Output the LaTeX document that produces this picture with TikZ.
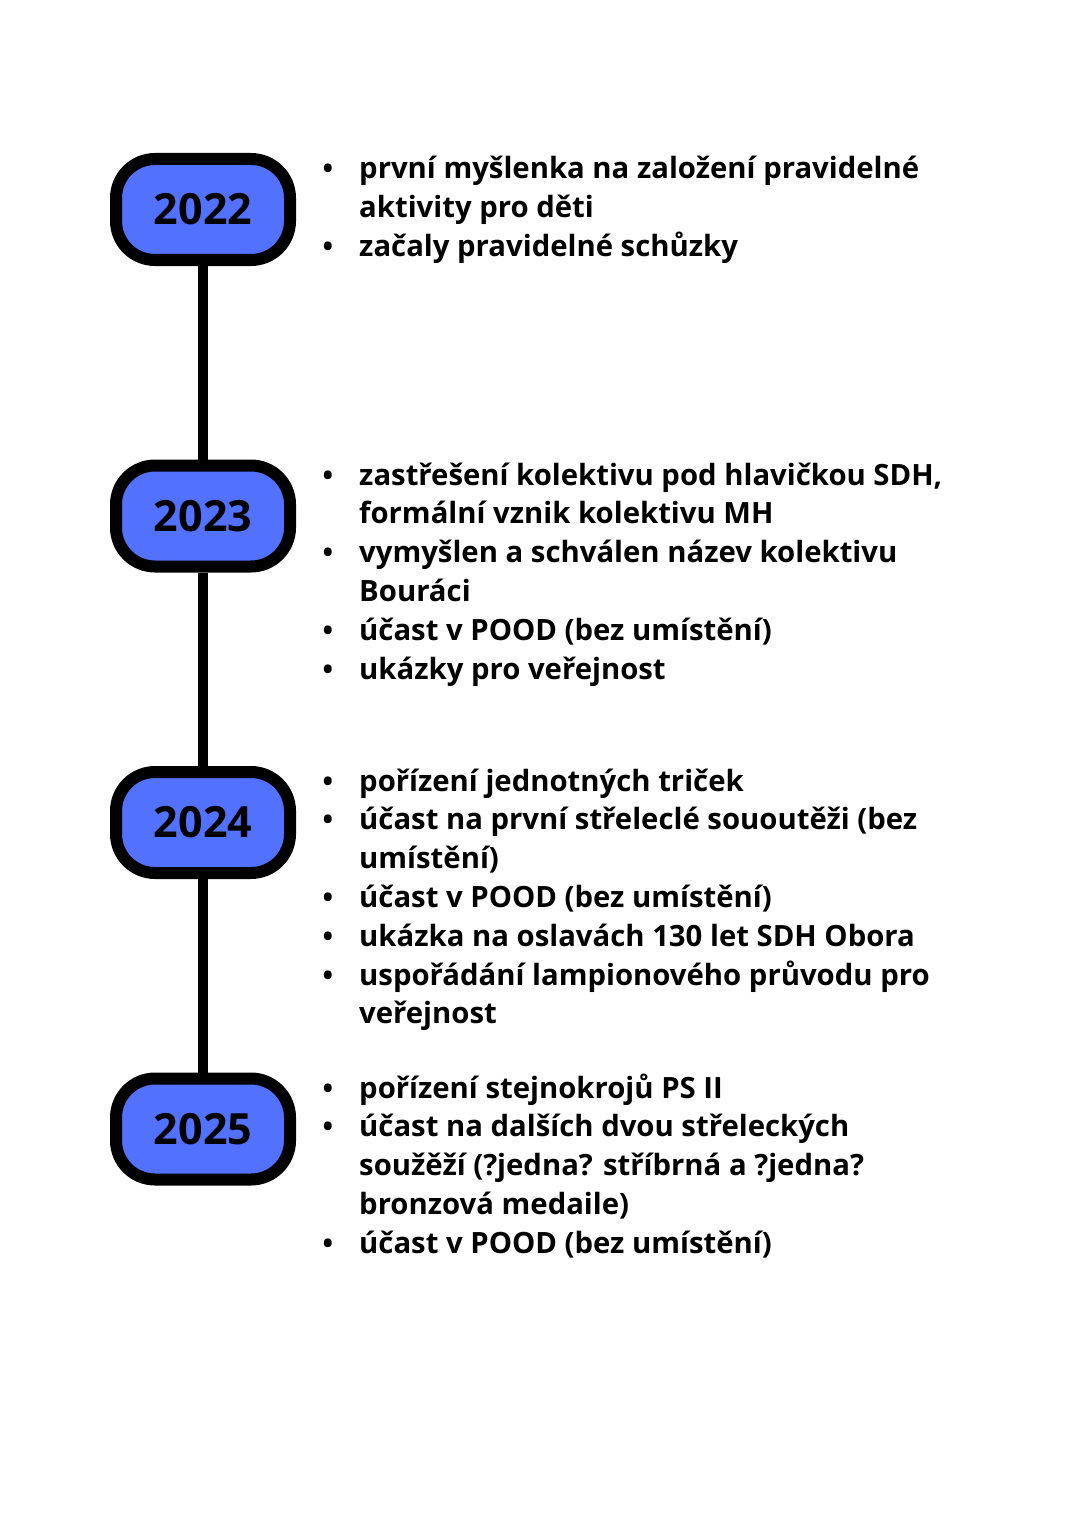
\documentclass[tikz,border=0pt]{standalone}
\usepackage{fontspec}
\setmainfont{Open Sans}
\definecolor{boxblue}{HTML}{5271FF}
\tikzset{
  yearbox/.style={draw=black, fill=boxblue, line width=12pt, rounded corners=39pt,
    minimum width=174pt, minimum height=101pt, inner sep=0pt,
    font=\fontsize{43}{50}\selectfont\bfseries},
  bul/.style={anchor=base, inner sep=0pt, font=\fontsize{28}{38.8}\selectfont\bfseries},
  txt/.style={anchor=base west, inner sep=0pt, font=\fontsize{29.3}{38.8}\selectfont\bfseries},
  link/.style={draw=black, line width=10pt}
}
\begin{document}
\begin{tikzpicture}[x=1pt,y=-1pt]
\useasboundingbox (0,0) rectangle (1085,1530);
\fill[white] (0,0) rectangle (1085,1530);
% year boxes
\node[yearbox] (b22) at (203,209.5) {2022};
\node[yearbox] (b23) at (203,516) {2023};
\node[yearbox] (b24) at (203,822.5) {2024};
\node[yearbox] (b25) at (203,1129) {2025};
% connectors
\draw[link] (b22.south) -- (b23.north);
\draw[link] (b23.south) -- (b24.north);
\draw[link] (b24.south) -- (b25.north);
% 2022
\node[bul] (u22a) at (328,178.5) {•};
\node[txt] (t22a) at (359,178.5) {první myšlenka na založení pravidelné};
\node[txt] (t22b) at (359,217.3) {aktivity pro děti};
\node[bul] (u22b) at (328,256.1) {•};
\node[txt] (t22c) at (359,256.1) {začaly pravidelné schůzky};
% 2023
\node[bul] (u23a) at (328,485) {•};
\node[txt] (t23a) at (359,485) {zastřešení kolektivu pod hlavičkou SDH,};
\node[txt] (t23b) at (359,523.8) {formální vznik kolektivu MH};
\node[bul] (u23b) at (328,562.6) {•};
\node[txt] (t23c) at (359,562.6) {vymyšlen a schválen název kolektivu};
\node[txt] (t23d) at (359,601.4) {Bouráci};
\node[bul] (u23c) at (328,640.2) {•};
\node[txt] (t23e) at (359,640.2) {účast v POOD (bez umístění)};
\node[bul] (u23d) at (328,679) {•};
\node[txt] (t23f) at (359,679) {ukázky pro veřejnost};
% 2024
\node[bul] (u24a) at (328,791) {•};
\node[txt] (t24a) at (359,791) {pořízení jednotných triček};
\node[bul] (u24b) at (328,829.8) {•};
\node[txt] (t24b) at (359,829.8) {účast na první střeleclé sououtěži (bez};
\node[txt] (t24c) at (359,868.6) {umístění)};
\node[bul] (u24c) at (328,907.4) {•};
\node[txt] (t24d) at (359,907.4) {účast v POOD (bez umístění)};
\node[bul] (u24d) at (328,946.2) {•};
\node[txt] (t24e) at (359,946.2) {ukázka na oslavách 130 let SDH Obora};
\node[bul] (u24e) at (328,985) {•};
\node[txt] (t24f) at (359,985) {uspořádání lampionového průvodu pro};
\node[txt] (t24g) at (359,1023.8) {veřejnost};
% 2025
\node[bul] (u25a) at (328,1098) {•};
\node[txt] (t25a) at (359,1098) {pořízení stejnokrojů PS II};
\node[bul] (u25b) at (328,1136.8) {•};
\node[txt] (t25b) at (359,1136.8) {účast na dalších dvou střeleckých};
\node[txt] (t25c) at (359,1175.6) {soužěží (?jedna? stříbrná a ?jedna?};
\node[txt] (t25d) at (359,1214.4) {bronzová medaile)};
\node[bul] (u25c) at (328,1253.2) {•};
\node[txt] (t25e) at (359,1253.2) {účast v POOD (bez umístění)};
\end{tikzpicture}
\end{document}
